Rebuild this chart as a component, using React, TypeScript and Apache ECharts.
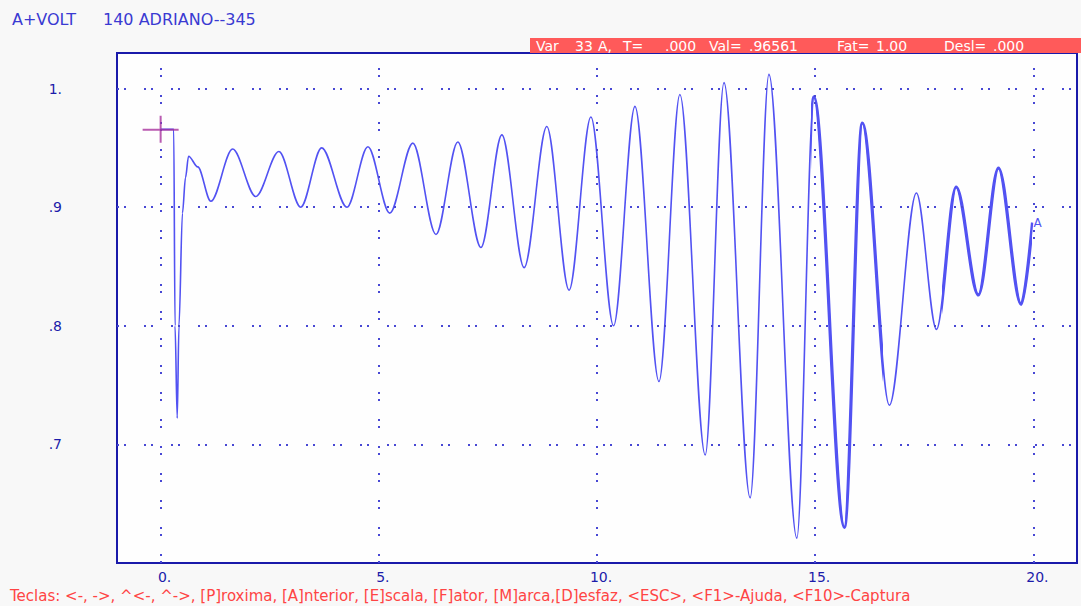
import React, { useEffect, useRef } from "react";
import * as echarts from "echarts";

// Sampled trace: time (s) and per-unit voltage at the extrema of each swing
const timeS = [
  0, 0.3, 0.33, 0.38, 0.42, 0.5, 0.57, 0.64, 0.85, 1.15, 1.65, 2.18, 2.71, 3.21,
  3.69, 4.27, 4.75, 5.25, 5.78, 6.31, 6.81, 7.34, 7.82, 8.33, 8.85, 9.36, 9.86,
  10.38, 10.87, 11.42, 11.9, 12.48, 12.91, 13.51, 13.94, 14.58, 14.97, 15.67,
  16.08, 16.7, 17.32, 17.78, 18.23, 18.74, 19.2, 19.72, 19.98,
];
const voltsPU = [
  0.9656, 0.9656, 0.8, 0.722, 0.8, 0.895, 0.925, 0.943, 0.934, 0.905, 0.949,
  0.909, 0.947, 0.9, 0.95, 0.9, 0.951, 0.895, 0.954, 0.877, 0.955, 0.866, 0.961,
  0.849, 0.968, 0.83, 0.976, 0.8, 0.985, 0.753, 0.995, 0.691, 1.005, 0.655,
  1.012, 0.621, 0.993, 0.63, 0.971, 0.733, 0.912, 0.797, 0.917, 0.826, 0.933,
  0.818, 0.887,
];
// Stretches of the record where the trace carries high-frequency ripple
const noisySpans = [
  [14.9, 16.55],
  [17.9, 19.98],
];

const gridTimes = [0, 5, 10, 15, 20];
const gridVolts = [0.7, 0.8, 0.9, 1.0];
const xTickLabels: Record<string, string> = { "0": "0.", "5": "5.", "10": "10.", "15": "15.", "20": "20." };
const yTickLabels: Record<string, string> = { "1": "1.", "0.9": ".9", "0.8": ".8", "0.7": ".7" };

const cursorPoint = [0, 0.96561];
const seriesTag = "A";

const titleVar = "A+VOLT";
const titleBus = "140 ADRIANO--345";
const statusParts: [string, number][] = [
  ["Var", 536],
  ["33", 575],
  ["A,", 598],
  ["T=", 623],
  [".000", 665],
  ["Val=", 709],
  [".96561", 749],
  ["Fat=", 837],
  ["1.00", 876],
  ["Desl=", 944],
  [".000", 993],
];
const helpLine =
  "Teclas: <-, ->, ^<-, ^->, [P]roxima, [A]nterior, [E]scala, [F]ator, [M]arca,[D]esfaz, <ESC>, <F1>-Ajuda, <F10>-Captura";

const FONT = "DejaVu Sans, Verdana, sans-serif";
const BLUE_TEXT = "#1c1caa";
const TRACE = "#5252f2";

export default function App() {
  const ref = useRef<HTMLDivElement>(null);

  useEffect(() => {
    if (!ref.current) return;
    const chart = echarts.init(ref.current, undefined, { renderer: "svg" });

    const trace = timeS.map((t, i) => [t, voltsPU[i]]);
    const dotted = {
      color: "#4848d4",
      width: 2,
      type: [2, 5, 2, 18] as number[],
      cap: "butt" as const,
    };
    const lineBase = {
      type: "line",
      data: trace,
      showSymbol: false,
      smooth: 0.33,
      smoothMonotone: "x",
    };

    chart.setOption({
      animation: false,
      backgroundColor: "#f8f8f8",
      grid: {
        left: 117,
        top: 53,
        width: 960,
        height: 510,
        show: true,
        backgroundColor: "#fefefe",
        borderColor: "#1a1aaa",
        borderWidth: 2,
      },
      // Thickens the trace only where it is noisy
      visualMap: {
        show: false,
        type: "piecewise",
        seriesIndex: 1,
        dimension: 0,
        pieces: noisySpans.map(([a, b]) => ({ gte: a, lte: b, color: TRACE })),
        outOfRange: { color: "rgba(82,82,242,0)" },
      },
      xAxis: {
        type: "value",
        min: -1,
        max: 21,
        interval: 1,
        axisLine: { show: false },
        axisTick: { show: false },
        splitLine: { show: false },
        axisLabel: {
          interval: 0,
          margin: 7,
          color: BLUE_TEXT,
          fontSize: 14,
          fontFamily: FONT,
          padding: [0, 0, 0, 8],
          formatter: (v: number) => xTickLabels[String(Math.round(v))] ?? "",
        },
      },
      yAxis: {
        type: "value",
        min: 0.6,
        max: 1.03,
        interval: 0.1,
        axisLine: { show: false },
        axisTick: { show: false },
        splitLine: { show: false },
        axisLabel: {
          margin: 55,
          color: BLUE_TEXT,
          fontSize: 14,
          fontFamily: FONT,
          formatter: (v: number) => yTickLabels[String(Math.round(v * 100) / 100)] ?? "",
        },
      },
      series: [
        {
          ...lineBase,
          lineStyle: { color: TRACE, width: 1.6 },
          endLabel: {
            show: true,
            formatter: seriesTag,
            color: TRACE,
            fontSize: 12,
            fontFamily: FONT,
            distance: 1,
          },
          markLine: {
            silent: true,
            symbol: ["none", "none"],
            label: { show: false },
            lineStyle: dotted,
            data: [
              ...gridTimes.map((v) => ({ xAxis: v })),
              ...gridVolts.map((v) => ({ yAxis: v })),
            ],
          },
          z: 3,
        },
        {
          ...lineBase,
          lineStyle: { width: 3.2 },
          silent: true,
          z: 3,
        },
        {
          type: "scatter",
          data: [cursorPoint],
          symbol: "path://M0,13h36v2h-36z M17,0h2v27h-2z",
          symbolSize: [36, 27],
          symbolKeepAspect: false,
          itemStyle: { color: "#a8329e" },
          silent: true,
          z: 5,
        },
      ],
      graphic: [
        {
          type: "text",
          x: 12,
          y: 19,
          style: { text: titleVar, fill: "#3a3ad2", font: `16px ${FONT}`, verticalAlign: "middle" },
        },
        {
          type: "text",
          x: 103,
          y: 19,
          style: { text: titleBus, fill: "#3a3ad2", font: `16px ${FONT}`, verticalAlign: "middle" },
        },
        {
          type: "rect",
          shape: { x: 530, y: 38, width: 551, height: 15 },
          style: { fill: "#ff5a5a" },
        },
        ...statusParts.map(([t, x]) => ({
          type: "text",
          x,
          y: 46,
          style: { text: t, fill: "#ffffff", font: `14px ${FONT}`, verticalAlign: "middle" },
          z: 10,
        })),
        {
          type: "text",
          x: 10,
          y: 596,
          style: { text: helpLine, fill: "#ff4444", font: `15px ${FONT}`, verticalAlign: "middle" },
        },
      ],
    });

    return () => chart.dispose();
  }, []);

  return (
    <div
      ref={ref}
      style={{ position: "fixed", left: 0, top: 0, width: 1081, height: 606 }}
    />
  );
}
